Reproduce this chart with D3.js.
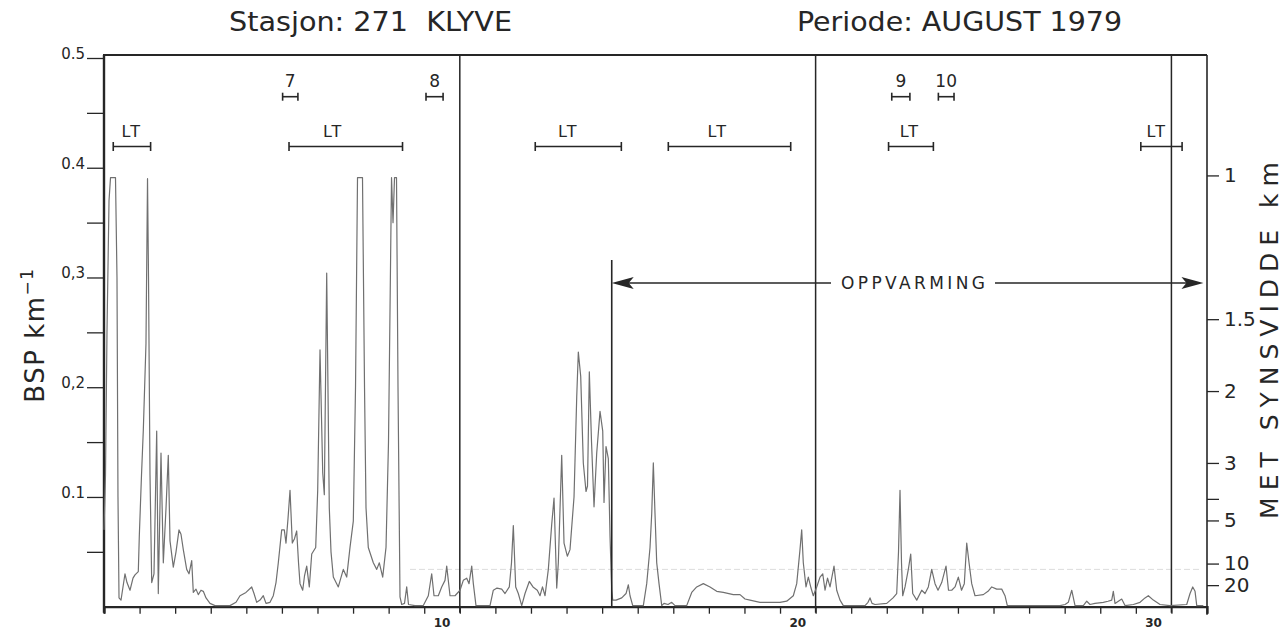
<!DOCTYPE html>
<html>
<head>
<meta charset="utf-8">
<script src="https://cdn.jsdelivr.net/npm/d3@7"></script>
<style>
  html, body { margin: 0; padding: 0; background: #ffffff; }
  svg { display: block; }
</style>
</head>
<body>
<svg id="chart" width="1287" height="631"></svg>
<script>
// ---- BSP record, station 271 KLYVE, August 1979 ----
// time in days from 1 Aug 00h, BSP in km^-1
const traceDay = [
  0.000, 0.042, 0.084, 0.141, 0.183, 0.323, 0.365, 0.393, 0.422, 0.478, 0.590, 0.646, 0.731, 0.815, 0.871,
  0.964, 0.992, 1.054, 1.105, 1.180, 1.223, 1.251, 1.293, 1.341, 1.405, 1.481, 1.526, 1.602, 1.667, 1.743,
  1.807, 1.855, 1.948, 2.024, 2.108, 2.164, 2.229, 2.324, 2.389, 2.465, 2.510, 2.586, 2.650, 2.726, 2.791,
  2.867, 2.979, 3.120, 3.541, 3.710, 3.822, 3.991, 4.151, 4.216, 4.292, 4.385, 4.477, 4.553, 4.666, 4.758,
  4.834, 4.899, 4.994, 5.067, 5.115, 5.171, 5.228, 5.292, 5.354, 5.416, 5.467, 5.509, 5.585, 5.635, 5.697,
  5.770, 5.838, 5.950, 6.006, 6.071, 6.147, 6.192, 6.259, 6.332, 6.380, 6.445, 6.585, 6.726, 6.821, 6.914,
  7.007, 7.069, 7.125, 7.265, 7.322, 7.364, 7.428, 7.569, 7.665, 7.738, 7.833, 7.926, 7.996, 8.081, 8.123,
  8.165, 8.221, 8.263, 8.319, 8.367, 8.446, 8.508, 8.558, 8.741, 8.974, 9.115, 9.210, 9.275, 9.396, 9.491,
  9.584, 9.632, 9.725, 9.865, 10.006,
  10.098, 10.194, 10.259, 10.335, 10.380, 10.455, 10.652, 10.849, 10.942, 11.046, 11.178, 11.271, 11.391,
  11.453, 11.504, 11.571, 11.644, 11.740, 11.833, 11.953, 12.057, 12.178, 12.254, 12.324, 12.395, 12.488,
  12.583, 12.648, 12.724, 12.769, 12.864, 12.929, 13.022, 13.097, 13.210, 13.286, 13.331, 13.398, 13.471,
  13.547, 13.589, 13.640, 13.702, 13.772, 13.848, 13.941, 14.017, 14.053, 14.109, 14.174, 14.222, 14.270,
  14.298, 14.391, 14.551, 14.672, 14.737, 14.784, 14.860, 15.158, 15.253, 15.346, 15.394, 15.439, 15.486,
  15.534, 15.599, 15.675, 15.739, 15.852, 15.956, 16.048, 16.377, 16.518, 16.658, 16.844, 17.032, 17.220,
  17.406, 17.687, 17.875, 18.016, 18.156, 18.437, 18.999, 19.188, 19.373, 19.469, 19.561, 19.609, 19.654,
  19.730, 19.795, 19.871, 19.935, 20.031, 20.124,
  20.200, 20.265, 20.335, 20.405, 20.517, 20.593, 20.686, 20.779, 21.389, 21.473, 21.529, 21.586, 21.670,
  21.999, 22.176, 22.279, 22.330, 22.372, 22.414, 22.448, 22.513, 22.606, 22.673, 22.729, 22.842, 22.982,
  23.075, 23.168, 23.263, 23.356, 23.440, 23.544, 23.665, 23.735, 23.825, 23.918, 24.011, 24.101, 24.179,
  24.247, 24.312, 24.387, 24.480, 24.713, 24.845, 24.950, 25.090, 25.231, 25.323, 25.388, 26.869, 27.010,
  27.102, 27.198, 27.291, 27.524, 27.620, 27.712, 27.853, 28.086, 28.218, 28.322, 28.367, 28.415, 28.603,
  28.696, 28.930, 29.118, 29.258, 29.351, 29.492, 29.680, 29.961, 30.430, 30.523, 30.599, 30.664, 30.712,
  30.897
];
const traceBsp = [
  0.070, 0.120, 0.250, 0.370, 0.391, 0.391, 0.300, 0.100, 0.008, 0.006, 0.030, 0.022, 0.015, 0.026, 0.029,
  0.032, 0.064, 0.120, 0.161, 0.240, 0.390, 0.300, 0.120, 0.022, 0.030, 0.160, 0.012, 0.140, 0.040, 0.090,
  0.138, 0.060, 0.036, 0.050, 0.070, 0.066, 0.052, 0.034, 0.030, 0.042, 0.013, 0.016, 0.011, 0.015, 0.014,
  0.008, 0.003, 0.001, 0.001, 0.004, 0.010, 0.013, 0.018, 0.012, 0.004, 0.006, 0.010, 0.003, 0.004, 0.010,
  0.022, 0.040, 0.070, 0.070, 0.058, 0.080, 0.106, 0.058, 0.062, 0.069, 0.040, 0.021, 0.015, 0.028, 0.037,
  0.018, 0.048, 0.054, 0.106, 0.234, 0.122, 0.102, 0.304, 0.090, 0.050, 0.027, 0.018, 0.034, 0.027, 0.054,
  0.078, 0.200, 0.391, 0.391, 0.200, 0.090, 0.054, 0.040, 0.034, 0.040, 0.027, 0.054, 0.150, 0.391, 0.350,
  0.391, 0.391, 0.200, 0.009, 0.002, 0.003, 0.018, 0.002, 0.001, 0.001, 0.010, 0.030, 0.010, 0.010, 0.018,
  0.024, 0.037, 0.010, 0.010, 0.015,
  0.024, 0.026, 0.021, 0.037, 0.021, 0.001, 0.001, 0.001, 0.015, 0.017, 0.016, 0.012, 0.018,
  0.040, 0.074, 0.018, 0.012, 0.001, 0.012, 0.023, 0.018, 0.015, 0.010, 0.018, 0.010, 0.034,
  0.075, 0.099, 0.017, 0.040, 0.138, 0.058, 0.046, 0.052, 0.100, 0.191, 0.232, 0.210, 0.131,
  0.105, 0.110, 0.214, 0.150, 0.091, 0.140, 0.178, 0.160, 0.095, 0.146, 0.135, 0.064, 0.015,
  0.006, 0.006, 0.008, 0.012, 0.020, 0.010, 0.001, 0.001, 0.021, 0.054, 0.085, 0.131, 0.085,
  0.040, 0.021, 0.001, 0.003, 0.002, 0.004, 0.001, 0.001, 0.013, 0.018, 0.021, 0.018, 0.014,
  0.013, 0.011, 0.011, 0.007, 0.006, 0.004, 0.004, 0.005, 0.010, 0.021, 0.052, 0.070, 0.040,
  0.018, 0.027, 0.017, 0.010, 0.018, 0.027,
  0.030, 0.015, 0.026, 0.018, 0.037, 0.015, 0.006, 0.001, 0.001, 0.004, 0.008, 0.003, 0.002,
  0.003, 0.008, 0.012, 0.050, 0.106, 0.040, 0.010, 0.018, 0.034, 0.048, 0.012, 0.006, 0.015,
  0.012, 0.018, 0.034, 0.021, 0.015, 0.022, 0.037, 0.015, 0.015, 0.018, 0.027, 0.015, 0.021,
  0.058, 0.040, 0.021, 0.010, 0.011, 0.014, 0.018, 0.016, 0.016, 0.010, 0.001, 0.001, 0.002,
  0.004, 0.015, 0.001, 0.001, 0.005, 0.002, 0.003, 0.004, 0.005, 0.006, 0.014, 0.003, 0.007,
  0.001, 0.002, 0.004, 0.008, 0.010, 0.006, 0.002, 0.001, 0.002, 0.012, 0.018, 0.014, 0.001,
  0.001
];

// left axis (BSP)
const bspMajor = [0.1, 0.2, 0.3, 0.4, 0.5];
const bspMajorLabels = ["0.1", "0,2", "0,3", "0.4", "0.5"];
const bspMinor = [0.05, 0.15, 0.25, 0.35, 0.45];

// right axis (meteorological visual range, km); BSP = visK / V
const visK = 0.393;
const visTicks = [1, 1.5, 2, 3, 4, 5, 10, 20];
const visTickLabels = ["1", "1.5", "2", "3", "", "5", "10", "20"];

// time axis
const dayTicks = d3.range(0, 32);
const dayLabels = ["10", "20", "30"];
const dayLabelAt = [9.5, 19.5, 29.5];
const dividerDays = [10, 20, 30];

// LT periods
const ltStart = [0.26, 5.20, 12.12, 15.86, 22.05, 29.14];
const ltEnd = [1.31, 8.39, 14.54, 19.30, 23.31, 30.30];
const ltLabelAt = [0.78, 6.44, 13.05, 17.25, 22.65, 29.59];

// numbered episodes
const epLabels = ["7", "8", "9", "10"];
const epStart = [5.02, 9.05, 22.14, 23.45];
const epEnd = [5.45, 9.53, 22.65, 23.89];

// warming period
const warmStart = 14.27;
const warmEnd = 30.9;
const warmLevel = 0.295;
const warmMarkerTop = 0.316;
const refLevel = 0.034;

const svg = d3.select("#chart");
const ink = "#262626";
const font = "'DejaVu Sans', 'Liberation Sans', sans-serif";

const x = d3.scaleLinear().domain([0, 31]).range([104, 1207]);
const y = d3.scaleLinear().domain([0, 0.5]).range([606.7, 58]);

// faint reference level
svg.append("line")
  .attr("x1", x(8.6)).attr("x2", x(30.8))
  .attr("y1", y(refLevel)).attr("y2", y(refLevel))
  .attr("stroke", "#dcdcdc").attr("stroke-width", 1)
  .attr("stroke-dasharray", "6 3");

// titles
svg.append("text").attr("x", 229).attr("y", 31)
  .attr("font-family", "'Liberation Sans Narrow', 'DejaVu Sans Condensed', 'DejaVu Sans', sans-serif")
  .attr("font-size", 27).attr("fill", ink)
  .attr("textLength", 283).attr("lengthAdjust", "spacingAndGlyphs")
  .attr("xml:space", "preserve")
  .text("Stasjon: 271  KLYVE");
svg.append("text").attr("x", 797).attr("y", 31)
  .attr("font-family", "'Liberation Sans Narrow', 'DejaVu Sans Condensed', 'DejaVu Sans', sans-serif")
  .attr("font-size", 27).attr("fill", ink)
  .attr("textLength", 325).attr("lengthAdjust", "spacingAndGlyphs")
  .text("Periode: AUGUST 1979");

// left axis
const leftAxis = svg.append("g").attr("transform", `translate(${x(0)},0)`);
leftAxis.call(d3.axisLeft(y).tickValues(bspMinor.concat(bspMajor)).tickSize(17).tickFormat(""));
leftAxis.select(".domain").remove();
leftAxis.selectAll(".tick line").attr("stroke", ink).attr("stroke-width", 1.3);
leftAxis.selectAll(".majlab").data(bspMajor).join("text")
  .attr("x", -19).attr("y", d => y(d) + 1)
  .attr("text-anchor", "end")
  .attr("font-family", font).attr("font-size", 15).attr("fill", ink)
  .text((d, i) => bspMajorLabels[i]);

// left axis title
const lt = svg.append("text")
  .attr("transform", `translate(44,${335}) rotate(-90)`)
  .attr("text-anchor", "middle")
  .attr("font-family", font).attr("font-size", 26).attr("letter-spacing", 1.5).attr("fill", ink);
lt.append("tspan").text("BSP km");
lt.append("tspan").attr("dy", -11).attr("font-size", 17).text("\u22121");

// bottom axis
const bottomAxis = svg.append("g").attr("transform", `translate(0,${y(0)})`);
bottomAxis.call(d3.axisBottom(x).tickValues(dayTicks).tickSize(7).tickFormat(""));
bottomAxis.select(".domain").attr("stroke", ink).attr("stroke-width", 2.2);
bottomAxis.selectAll(".tick line").attr("stroke", ink).attr("stroke-width", 1.3);
svg.selectAll(".daylab").data(dayLabelAt).join("text")
  .attr("x", d => x(d)).attr("y", 627)
  .attr("text-anchor", "middle")
  .attr("font-family", font).attr("font-size", 12).attr("font-weight", "bold").attr("fill", ink)
  .text((d, i) => dayLabels[i]);

// right axis (visual range)
const rightAxis = svg.append("g").attr("transform", `translate(${x(31)},0)`);
rightAxis.call(d3.axisRight(y).tickValues(visTicks.map(v => visK / v)).tickSize(12).tickPadding(5)
  .tickFormat((d, i) => visTickLabels[i]));
rightAxis.select(".domain").remove();
rightAxis.selectAll(".tick line").attr("stroke", ink).attr("stroke-width", 1.3);
rightAxis.selectAll(".tick text").attr("font-family", font).attr("font-size", 20).attr("fill", ink);
svg.append("text")
  .attr("transform", `translate(1278,${337}) rotate(-90)`)
  .attr("text-anchor", "middle")
  .attr("font-family", font).attr("font-size", 25).attr("fill", ink)
  .attr("letter-spacing", 7)
  .text("MET SYNSVIDDE km");

// frame
svg.append("line").attr("x1", x(0)).attr("x2", x(0)).attr("y1", 55).attr("y2", y(0) + 6)
  .attr("stroke", ink).attr("stroke-width", 2.4);
svg.append("line").attr("x1", x(0) - 1).attr("x2", x(31)).attr("y1", 55).attr("y2", 55)
  .attr("stroke", ink).attr("stroke-width", 2.2);
svg.append("line").attr("x1", x(31)).attr("x2", x(31)).attr("y1", 55).attr("y2", y(0) + 8)
  .attr("stroke", ink).attr("stroke-width", 1.6);
svg.selectAll(".divider").data(dividerDays).join("line")
  .attr("x1", d => x(d)).attr("x2", d => x(d))
  .attr("y1", 55).attr("y2", y(0) + 6)
  .attr("stroke", ink).attr("stroke-width", 1.5);

// BSP trace
const pts = traceDay.map((d, i) => [d, traceBsp[i]]);
svg.append("path")
  .datum(pts)
  .attr("fill", "none")
  .attr("stroke", "#707070")
  .attr("stroke-width", 1.2)
  .attr("stroke-linejoin", "round")
  .attr("d", d3.line().x(d => x(d[0])).y(d => y(d[1])));

// interval bars
function bar(a, b, yy, cap) {
  svg.append("line").attr("x1", x(a)).attr("x2", x(b)).attr("y1", yy).attr("y2", yy)
    .attr("stroke", ink).attr("stroke-width", 1.6);
  [a, b].forEach(t => svg.append("line").attr("x1", x(t)).attr("x2", x(t))
    .attr("y1", yy - cap).attr("y2", yy + cap).attr("stroke", ink).attr("stroke-width", 1.6));
}
ltStart.forEach((s, i) => {
  bar(s, ltEnd[i], 146.5, 4.5);
  svg.append("text").attr("x", x(ltLabelAt[i])).attr("y", 137)
    .attr("text-anchor", "middle")
    .attr("font-family", font).attr("font-size", 16).attr("letter-spacing", 2).attr("fill", ink)
    .text("LT");
});
epStart.forEach((s, i) => {
  bar(s, epEnd[i], 96.7, 4);
  svg.append("text").attr("x", x((s + epEnd[i]) / 2)).attr("y", 87)
    .attr("text-anchor", "middle")
    .attr("font-family", font).attr("font-size", 17).attr("fill", ink)
    .text(epLabels[i]);
});

// warming period marker and arrow
svg.append("line").attr("x1", x(warmStart)).attr("x2", x(warmStart))
  .attr("y1", y(warmMarkerTop)).attr("y2", y(0))
  .attr("stroke", ink).attr("stroke-width", 1.6);
const ay = y(warmLevel);
const textL = 841, textR = 985;
svg.append("line").attr("x1", x(warmStart) + 4).attr("x2", textL - 10).attr("y1", ay).attr("y2", ay)
  .attr("stroke", ink).attr("stroke-width", 1.4);
svg.append("line").attr("x1", textR + 10).attr("x2", x(warmEnd) - 4).attr("y1", ay).attr("y2", ay)
  .attr("stroke", ink).attr("stroke-width", 1.4);
const xs = x(warmStart), xe = x(warmEnd);
svg.append("path").attr("d", `M${xs},${ay} L${xs + 22},${ay - 6} L${xs + 17},${ay} L${xs + 22},${ay + 6} Z`)
  .attr("fill", ink);
svg.append("path").attr("d", `M${xe},${ay} L${xe - 22},${ay - 6} L${xe - 17},${ay} L${xe - 22},${ay + 6} Z`)
  .attr("fill", ink);
svg.append("text").attr("x", textL).attr("y", ay + 6.5)
  .attr("font-family", font).attr("font-size", 17).attr("fill", ink)
  .attr("textLength", textR - textL).attr("lengthAdjust", "spacing")
  .text("OPPVARMING");
</script>
</body>
</html>
